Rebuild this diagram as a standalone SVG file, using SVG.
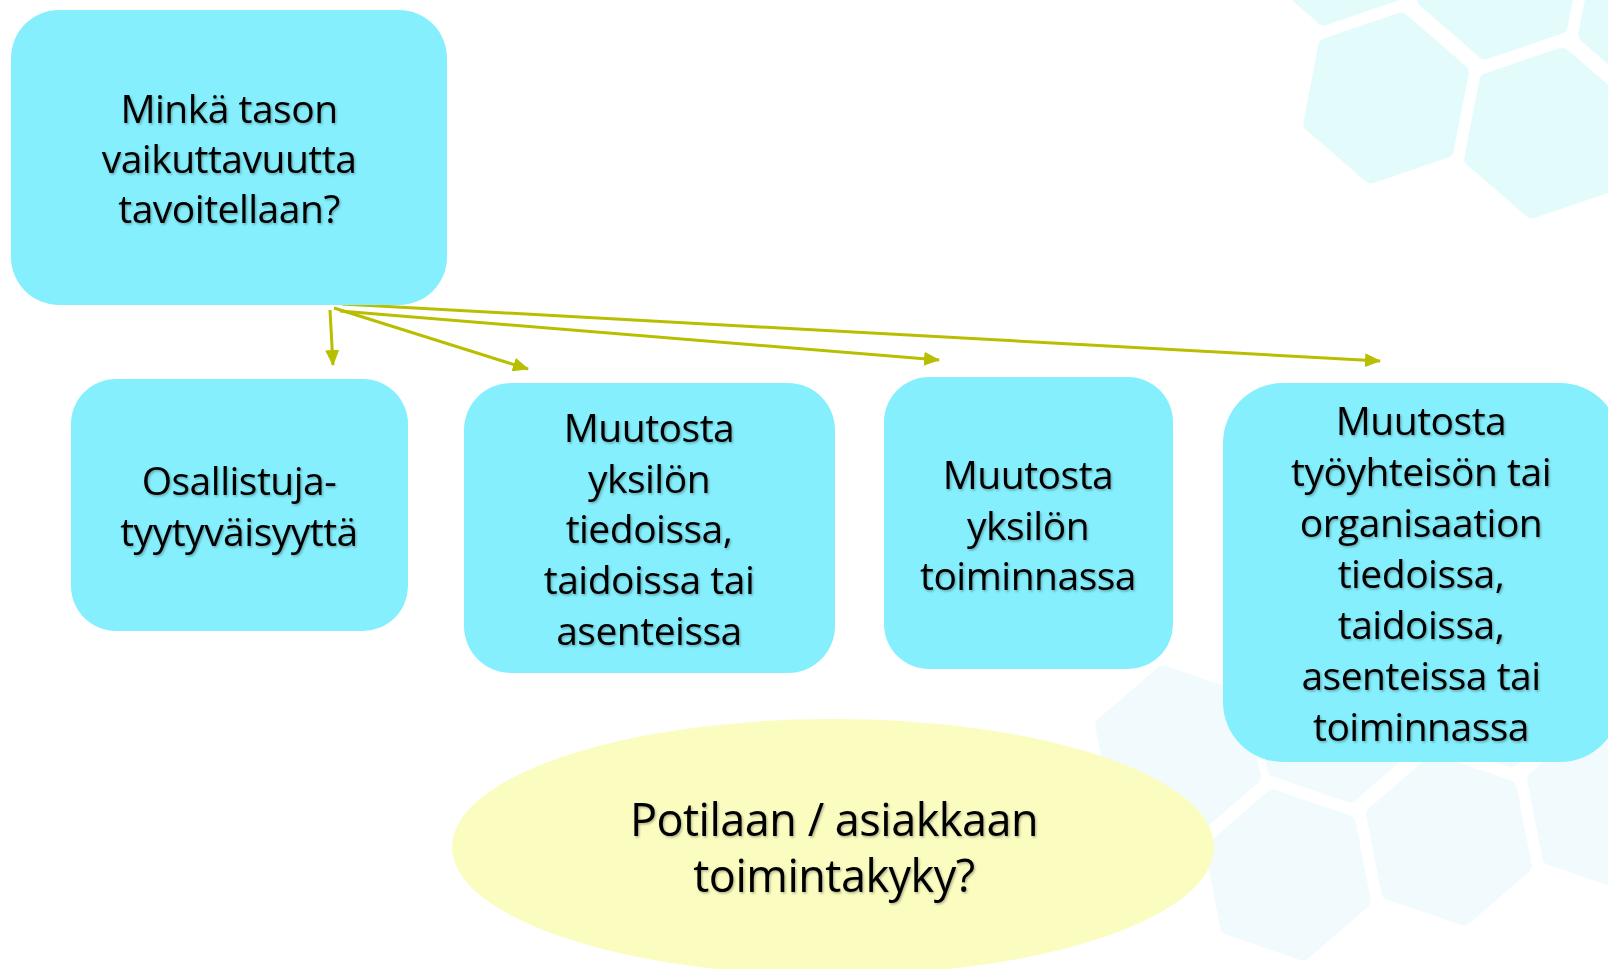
<svg xmlns="http://www.w3.org/2000/svg" xmlns:xlink="http://www.w3.org/1999/xlink" width="1608" height="969" viewBox="0 0 1608 969">
  <style>
    .node { fill: #85EFFD; }
    .t { font-family: "Open Sans", "Noto Sans", "DejaVu Sans", sans-serif; font-size: 39px; letter-spacing: -0.5px; fill: #000; text-anchor: middle; filter: url(#sh); }
    .conn { stroke: #B8BE00; stroke-width: 3; fill: none; marker-end: url(#ah); }
    .hexTop { fill: #E4FBFC; stroke: #E4FBFC; stroke-width: 16; stroke-linejoin: round; }
    .hexBot { fill: url(#fade); stroke: url(#fade); stroke-width: 16; stroke-linejoin: round; }
  </style>
  <defs>
    <filter id="sh" x="-10%" y="-20%" width="120%" height="150%">
      <feDropShadow dx="1.2" dy="1.5" stdDeviation="1" flood-color="#000" flood-opacity="0.3"/>
    </filter>
    <marker id="ah" viewBox="0 0 16 14" refX="15" refY="7" markerWidth="16" markerHeight="14" markerUnits="userSpaceOnUse" orient="auto">
      <path d="M0,0 L16,7 L0,14 z" fill="#B8BE00"/>
    </marker>
    <linearGradient id="fade" gradientUnits="userSpaceOnUse" x1="0" y1="660" x2="0" y2="969">
      <stop offset="0" stop-color="#F1FAFC"/>
      <stop offset="1" stop-color="#FFFFFF"/>
    </linearGradient>
    <polygon id="hA" points="15,-77.5 74.8,-25.8 59.7,51.9 -15,77.5 -74.8,25.8 -59.7,-51.9"/>
    <polygon id="hB" points="-15,-77.5 59.7,-51.9 74.8,25.8 15,77.5 -59.7,51.9 -74.8,-25.8"/>
  </defs>

  <rect width="1608" height="969" fill="#FFFFFF"/>

  <g id="background">
    <use xlink:href="#hA" class="hexTop" x="1339" y="-60"/>
    <use xlink:href="#hA" class="hexTop" x="1500" y="-26"/>
    <use xlink:href="#hA" class="hexTop" x="1661" y="9"/>
    <use xlink:href="#hA" class="hexTop" x="1386" y="98"/>
    <use xlink:href="#hA" class="hexTop" x="1547" y="133"/>
    <use xlink:href="#hB" class="hexBot" x="1178" y="751"/>
    <use xlink:href="#hB" class="hexBot" x="1288" y="875"/>
    <use xlink:href="#hB" class="hexBot" x="1335" y="717"/>
    <use xlink:href="#hB" class="hexBot" x="1496" y="682"/>
    <use xlink:href="#hB" class="hexBot" x="1449" y="840"/>
    <use xlink:href="#hB" class="hexBot" x="1610" y="805"/>
  </g>

  <g id="connectors">
    <line class="conn" x1="330" y1="310" x2="333" y2="365"/>
    <line class="conn" x1="334" y1="308" x2="528" y2="369"/>
    <line class="conn" x1="340" y1="311" x2="939" y2="360"/>
    <line class="conn" x1="342" y1="304" x2="1380" y2="361"/>
  </g>

  <g id="node-question">
    <rect class="node" x="11" y="10" width="436" height="295" rx="48" ry="48"/>
    <text class="t" x="229" y="123">Minkä tason</text>
    <text class="t" x="229" y="173">vaikuttavuutta</text>
    <text class="t" x="229" y="223">tavoitellaan?</text>
  </g>

  <g id="node-satisfaction">
    <rect class="node" x="71" y="379" width="337" height="252" rx="45" ry="45"/>
    <text class="t" x="239" y="495">Osallistuja-</text>
    <text class="t" x="239" y="546">tyytyväisyyttä</text>
  </g>

  <g id="node-individual-knowledge">
    <rect class="node" x="464" y="383" width="371" height="290" rx="47" ry="47"/>
    <text class="t" x="649" y="442">Muutosta</text>
    <text class="t" x="649" y="493">yksilön</text>
    <text class="t" x="649" y="543">tiedoissa,</text>
    <text class="t" x="649" y="594">taidoissa tai</text>
    <text class="t" x="649" y="645">asenteissa</text>
  </g>

  <g id="node-individual-action">
    <rect class="node" x="884" y="377" width="289" height="292" rx="45" ry="45"/>
    <text class="t" x="1028" y="489">Muutosta</text>
    <text class="t" x="1028" y="540">yksilön</text>
    <text class="t" x="1028" y="590">toiminnassa</text>
  </g>

  <g id="node-organisation">
    <rect class="node" x="1223" y="383" width="397" height="379" rx="60" ry="60"/>
    <text class="t" x="1421" y="435">Muutosta</text>
    <text class="t" x="1421" y="486">työyhteisön tai</text>
    <text class="t" x="1421" y="537">organisaation</text>
    <text class="t" x="1421" y="588">tiedoissa,</text>
    <text class="t" x="1421" y="639">taidoissa,</text>
    <text class="t" x="1421" y="690">asenteissa tai</text>
    <text class="t" x="1421" y="741">toiminnassa</text>
  </g>

  <g id="node-patient">
    <ellipse cx="833" cy="847" rx="381" ry="128" fill="#FBFDC0"/>
    <text class="t" x="834" y="836" style="font-size:45px">Potilaan / asiakkaan</text>
    <text class="t" x="834" y="892" style="font-size:45px">toimintakyky?</text>
  </g>
</svg>
